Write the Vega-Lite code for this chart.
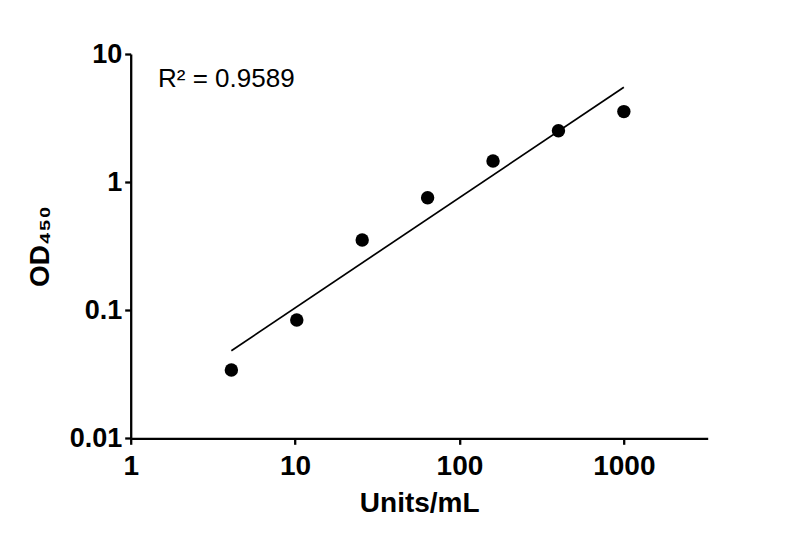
{
  "$schema": "https://vega.github.io/schema/vega-lite/v6.json",
  "description": "Standard curve: OD450 vs Units/mL, log-log, with linear fit.",
  "width": 577,
  "height": 384.3,
  "autosize": "none",
  "padding": {"left": 130.7, "top": 54, "right": 92.3, "bottom": 104.7},
  "datasets": {
    "points": [
      {"units": 4.096, "od": 0.0341},
      {"units": 10.24, "od": 0.0838},
      {"units": 25.6, "od": 0.353},
      {"units": 64, "od": 0.755},
      {"units": 160, "od": 1.46},
      {"units": 400, "od": 2.52},
      {"units": 1000, "od": 3.55}
    ],
    "fit": [
      {"units": 4.096, "od": 0.0483},
      {"units": 1000, "od": 5.5}
    ],
    "note": [
      {"units": 1.466, "od": 5.56, "label": "R² = 0.9589"}
    ]
  },
  "encoding": {
    "x": {
      "field": "units",
      "type": "quantitative",
      "scale": {"type": "log", "domain": [1, 3236], "nice": false},
      "axis": {
        "values": [1, 10, 100, 1000],
        "format": "~g",
        "title": "Units/mL",
        "labelFontSize": 28,
        "labelPadding": 7.9,
        "titleFontSize": 28,
        "titlePadding": 9.4
      }
    },
    "y": {
      "field": "od",
      "type": "quantitative",
      "scale": {"type": "log", "domain": [0.01, 10], "nice": false},
      "axis": {
        "values": [0.01, 0.1, 1, 10],
        "format": "~g",
        "title": "OD₄₅₀",
        "labelFontSize": 27,
        "labelPadding": 3,
        "titleFontSize": 28,
        "titlePadding": 15
      }
    }
  },
  "layer": [
    {
      "data": {"name": "fit"},
      "mark": {"type": "line", "color": "black", "strokeWidth": 1.7}
    },
    {
      "data": {"name": "points"},
      "mark": {"type": "circle", "color": "black", "opacity": 1, "size": 180}
    },
    {
      "data": {"name": "note"},
      "mark": {
        "type": "text",
        "align": "left",
        "baseline": "alphabetic",
        "font": "Liberation Sans",
        "fontSize": 26,
        "color": "black"
      },
      "encoding": {"text": {"field": "label"}}
    }
  ],
  "config": {
    "background": "white",
    "view": {"stroke": null},
    "axis": {
      "grid": false,
      "labelFont": "Liberation Sans",
      "labelFontWeight": "bold",
      "labelColor": "black",
      "labelFlush": false,
      "labelOverlap": false,
      "titleFont": "Liberation Sans",
      "titleFontWeight": "bold",
      "titleColor": "black",
      "domainColor": "black",
      "domainWidth": 2.3,
      "tickColor": "black",
      "tickWidth": 2.3,
      "tickSize": 6
    }
  }
}
